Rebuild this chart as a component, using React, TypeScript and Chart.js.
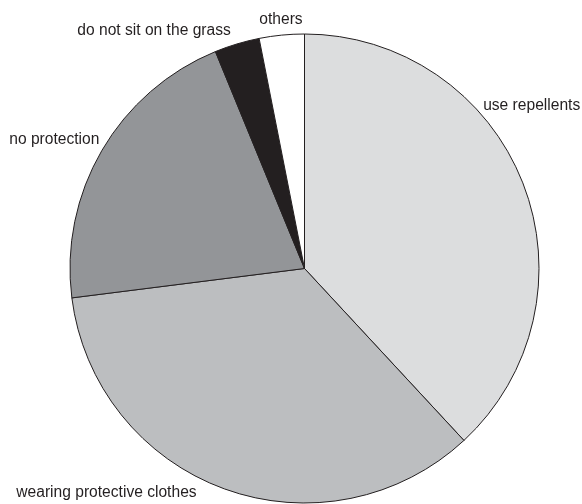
import React, { useEffect, useRef } from "react";
import { Chart, registerables } from "chart.js";

Chart.register(...registerables);

// ---- data ----
const categories = [
  "use repellents",
  "wearing protective clothes",
  "no protection",
  "do not sit on the grass",
  "others",
];
const shares = [38.1, 34.9, 20.8, 3.1, 3.1];

// ---- styling ----
const sliceColors = ["#dcddde", "#bcbec0", "#939598", "#231f20", "#ffffff"];
const labelNudgeDeg = [-21, 6.5, 1.8, -1, 0];
const LABEL_GAP = 7.5;
const FONT = '15.6px "Liberation Sans", Arial, sans-serif';

const outsideLabels = {
  id: "outsideLabels",
  afterDatasetsDraw(chart: any) {
    const meta = chart.getDatasetMeta(0);
    const ctx = chart.ctx;
    ctx.save();
    ctx.font = FONT;
    ctx.fillStyle = "#231f20";
    meta.data.forEach((arc: any, i: number) => {
      const { x, y, startAngle, endAngle, outerRadius } = arc.getProps(
        ["x", "y", "startAngle", "endAngle", "outerRadius"],
        true
      );
      const mid = (startAngle + endAngle) / 2 + (labelNudgeDeg[i] * Math.PI) / 180;
      const ux = Math.cos(mid);
      const uy = Math.sin(mid);
      const R = outerRadius + LABEL_GAP;
      const px = x + R * ux;
      const py = y + R * uy;
      ctx.textAlign = ux > 0.25 ? "left" : ux < -0.25 ? "right" : "center";
      ctx.textBaseline = uy < -0.7 ? "bottom" : uy > 0.7 ? "top" : "middle";
      ctx.fillText(chart.data.labels[i], px, py);
    });
    ctx.restore();
  },
};

export default function App() {
  const ref = useRef<HTMLCanvasElement | null>(null);
  useEffect(() => {
    if (!ref.current) return;
    const chart = new Chart(ref.current, {
      type: "pie",
      data: {
        labels: categories,
        datasets: [
          {
            data: shares,
            backgroundColor: sliceColors,
            borderColor: "#231f20",
            borderWidth: 1,
          },
        ],
      },
      options: {
        responsive: false,
        animation: false,
        events: [],
        layout: { padding: { left: 69.5, right: 42.5, top: 33.5, bottom: 0.5 } },
        plugins: {
          legend: { display: false },
          tooltip: { enabled: false },
        },
      },
      plugins: [outsideLabels],
    });
    return () => chart.destroy();
  }, []);
  return (
    <div style={{ position: "fixed", left: 0, top: 0, width: 582, height: 504, background: "#fff" }}>
      <canvas ref={ref} width={582} height={504} style={{ width: 582, height: 504, display: "block" }} />
    </div>
  );
}
